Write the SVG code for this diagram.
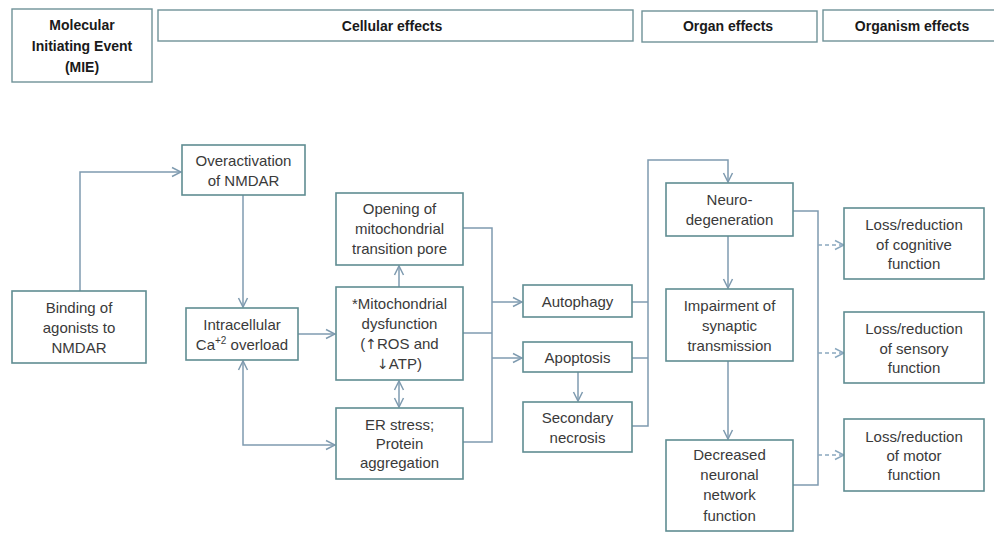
<svg xmlns="http://www.w3.org/2000/svg" width="994" height="533" viewBox="0 0 994 533">
  <defs>
    <style>
      .box { fill: #ffffff; stroke: #5f8d92; stroke-width: 1.6; }
      .hdr { fill: #ffffff; stroke: #6f9298; stroke-width: 1.4; }
      .ht { font-family: "Liberation Sans", Arial, sans-serif; font-size: 14px; font-weight: bold; fill: #1a1a1a; text-anchor: middle; }
      .t { font-family: "Liberation Sans", Arial, sans-serif; font-size: 15px; fill: #3a3a3a; text-anchor: middle; }
      .sym { font-family: "DejaVu Sans", sans-serif; font-size: 14px; }
      .ln { fill: none; stroke: #7f9bb0; stroke-width: 1.5; }
      .dash { fill: none; stroke: #8aa8bf; stroke-width: 1.5; stroke-dasharray: 4 3; }
    </style>
    <marker id="arr" viewBox="0 0 12 12" refX="11" refY="6" markerWidth="12" markerHeight="12" markerUnits="userSpaceOnUse" orient="auto-start-reverse">
      <path d="M2,1.5 L11,6 L2,10.5" fill="none" stroke="#7f9bb0" stroke-width="1.5"/>
    </marker>
    <marker id="arrd" viewBox="0 0 12 12" refX="11" refY="6" markerWidth="12" markerHeight="12" markerUnits="userSpaceOnUse" orient="auto">
      <path d="M2,1.5 L11,6 L2,10.5" fill="none" stroke="#8aa8bf" stroke-width="1.5"/>
    </marker>
  </defs>

  <rect width="994" height="533" fill="#ffffff"/>

  <!-- Column headers -->
  <g id="hdr-mie">
    <rect class="hdr" x="12" y="9" width="140" height="73"/>
    <text class="ht" x="82" y="30">Molecular</text>
    <text class="ht" x="82" y="51">Initiating Event</text>
    <text class="ht" x="82" y="72">(MIE)</text>
  </g>
  <g id="hdr-cellular">
    <rect class="hdr" x="158" y="10" width="475" height="31"/>
    <text class="ht" x="392" y="31">Cellular effects</text>
  </g>
  <g id="hdr-organ">
    <rect class="hdr" x="642" y="11" width="175" height="31"/>
    <text class="ht" x="728" y="31">Organ effects</text>
  </g>
  <g id="hdr-organism">
    <rect class="hdr" x="823" y="10" width="180" height="31"/>
    <text class="ht" x="912" y="31">Organism effects</text>
  </g>

  <!-- Connectors -->
  <g id="connectors">
    <!-- binding -> overactivation -->
    <path class="ln" d="M80,291 V172 H181" marker-end="url(#arr)"/>
    <!-- overactivation -> Ca overload -->
    <path class="ln" d="M243,195 V307" marker-end="url(#arr)"/>
    <!-- Ca overload -> mitochondrial dysfunction -->
    <path class="ln" d="M298,334 H335" marker-end="url(#arr)"/>
    <!-- Ca overload <-> ER stress -->
    <path class="ln" d="M243,361 V445 H335" marker-start="url(#arr)" marker-end="url(#arr)"/>
    <!-- mitochondrial dysfunction -> pore opening -->
    <path class="ln" d="M399,287 V266" marker-end="url(#arr)"/>
    <!-- mitochondrial dysfunction <-> ER stress -->
    <path class="ln" d="M399,381 V407" marker-start="url(#arr)" marker-end="url(#arr)"/>
    <!-- cellular outcomes bus -->
    <path class="ln" d="M463,228 H492 V442 H463"/>
    <path class="ln" d="M463,333 H492"/>
    <path class="ln" d="M492,302 H522" marker-end="url(#arr)"/>
    <path class="ln" d="M492,358 H522" marker-end="url(#arr)"/>
    <!-- apoptosis -> secondary necrosis -->
    <path class="ln" d="M578,372 V401" marker-end="url(#arr)"/>
    <!-- cell death bus -> neurodegeneration -->
    <path class="ln" d="M632,302 H648"/>
    <path class="ln" d="M632,358 H648"/>
    <path class="ln" d="M632,426 H648 V160 H728 V182" marker-end="url(#arr)"/>
    <!-- organ chain -->
    <path class="ln" d="M728,236 V288" marker-end="url(#arr)"/>
    <path class="ln" d="M728,361 V439" marker-end="url(#arr)"/>
    <!-- organ bus -->
    <path class="ln" d="M793,211 H818 V485 H793"/>
    <!-- dashed to organism effects -->
    <path class="dash" d="M818,245 H844" marker-end="url(#arrd)"/>
    <path class="dash" d="M818,353 H844" marker-end="url(#arrd)"/>
    <path class="dash" d="M818,455 H844" marker-end="url(#arrd)"/>
  </g>

  <!-- Nodes -->
  <g id="binding">
    <rect class="box" x="12" y="291" width="134" height="72"/>
    <text class="t" x="79" y="313">Binding of</text>
    <text class="t" x="79" y="333">agonists to</text>
    <text class="t" x="79" y="353">NMDAR</text>
  </g>
  <g id="overactivation">
    <rect class="box" x="182" y="145" width="123" height="50"/>
    <text class="t" x="243.5" y="165.5">Overactivation</text>
    <text class="t" x="243.5" y="185.5">of NMDAR</text>
  </g>
  <g id="ca-overload">
    <rect class="box" x="186" y="308" width="112" height="52"/>
    <text class="t" x="242" y="329.5">Intracellular</text>
    <text class="t" x="242" y="349.5">Ca<tspan font-size="10" dy="-6">+2</tspan><tspan dy="6"> overload</tspan></text>
  </g>
  <g id="pore-opening">
    <rect class="box" x="336" y="193" width="127" height="72"/>
    <text class="t" x="399.5" y="214">Opening of</text>
    <text class="t" x="399.5" y="234">mitochondrial</text>
    <text class="t" x="399.5" y="254">transition pore</text>
  </g>
  <g id="mito-dysfunction">
    <rect class="box" x="336" y="287" width="127" height="93"/>
    <text class="t" x="399.5" y="309">*Mitochondrial</text>
    <text class="t" x="399.5" y="329">dysfunction</text>
    <text class="t" x="399.5" y="349">(<tspan class="sym">↑</tspan>ROS and</text>
    <text class="t" x="399.5" y="369"><tspan class="sym">↓</tspan>ATP)</text>
  </g>
  <g id="er-stress">
    <rect class="box" x="336" y="408" width="127" height="71"/>
    <text class="t" x="399.5" y="430">ER stress;</text>
    <text class="t" x="399.5" y="449">Protein</text>
    <text class="t" x="399.5" y="468">aggregation</text>
  </g>
  <g id="autophagy">
    <rect class="box" x="523" y="285" width="109" height="32"/>
    <text class="t" x="577.5" y="306.5">Autophagy</text>
  </g>
  <g id="apoptosis">
    <rect class="box" x="523" y="342" width="109" height="30"/>
    <text class="t" x="577.5" y="362.5">Apoptosis</text>
  </g>
  <g id="secondary-necrosis">
    <rect class="box" x="523" y="402" width="109" height="50"/>
    <text class="t" x="577.5" y="422.5">Secondary</text>
    <text class="t" x="577.5" y="442.5">necrosis</text>
  </g>
  <g id="neurodegeneration">
    <rect class="box" x="666" y="183" width="127" height="53"/>
    <text class="t" x="729.5" y="205">Neuro-</text>
    <text class="t" x="729.5" y="225">degeneration</text>
  </g>
  <g id="synaptic-impairment">
    <rect class="box" x="666" y="289" width="127" height="72"/>
    <text class="t" x="729.5" y="310.5">Impairment of</text>
    <text class="t" x="729.5" y="330.5">synaptic</text>
    <text class="t" x="729.5" y="350.5">transmission</text>
  </g>
  <g id="network-function">
    <rect class="box" x="666" y="440" width="127" height="91"/>
    <text class="t" x="729.5" y="459.5">Decreased</text>
    <text class="t" x="729.5" y="480">neuronal</text>
    <text class="t" x="729.5" y="500">network</text>
    <text class="t" x="729.5" y="520.5">function</text>
  </g>
  <g id="cognitive-loss">
    <rect class="box" x="844" y="208" width="140" height="71"/>
    <text class="t" x="914" y="230">Loss/reduction</text>
    <text class="t" x="914" y="249.5">of cognitive</text>
    <text class="t" x="914" y="269">function</text>
  </g>
  <g id="sensory-loss">
    <rect class="box" x="844" y="312" width="140" height="71"/>
    <text class="t" x="914" y="334">Loss/reduction</text>
    <text class="t" x="914" y="353.5">of sensory</text>
    <text class="t" x="914" y="373">function</text>
  </g>
  <g id="motor-loss">
    <rect class="box" x="844" y="419" width="140" height="72"/>
    <text class="t" x="914" y="441.5">Loss/reduction</text>
    <text class="t" x="914" y="460.5">of motor</text>
    <text class="t" x="914" y="479.5">function</text>
  </g>
</svg>
